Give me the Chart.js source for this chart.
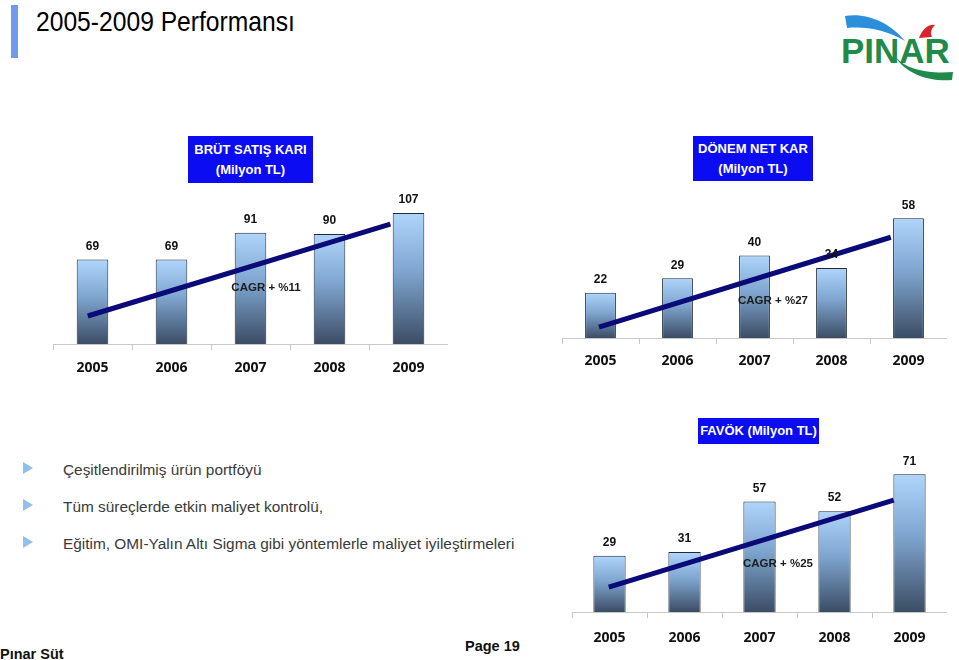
<!DOCTYPE html>
<html lang="tr">
<head>
<meta charset="UTF-8">
<title>2005-2009 Performansı</title>
<script src="https://cdn.jsdelivr.net/npm/chart.js"></script>
<style>
    body {
        margin: 0;
        width: 959px;
        height: 660px;
        position: relative;
        overflow: hidden;
        background: #fff;
        font-family: 'Liberation Sans', Arial, sans-serif;
    }
    .abs { position: absolute; }
    #bar-mark { left: 11px; top: 5px; width: 7px; height: 53px; background: #6f9af0; }
    #page-title {
        left: 36px; top: 6px; font-size: 28px; color: #000;
        transform: scaleX(0.88); transform-origin: left top; white-space: nowrap;
    }
    .title-box {
        background: #0c0cf2; color: #fff; font-weight: bold; font-size: 13px;
        text-align: center; line-height: 20px; display: flex; flex-direction: column;
        justify-content: center;
    }
    .cagr { font-weight: bold; font-size: 11.5px; color: #1c1c1c; white-space: nowrap; transform: translate(-50%, -50%); }
    .bullet { left: 23px; width: 0; height: 0; border-top: 6px solid transparent; border-bottom: 6px solid transparent; border-left: 10px solid #8ec0f0; }
    .btext { left: 63px; font-size: 15.4px; color: #3a3a3a; white-space: nowrap; transform: translateY(-50%); }
    .foot { font-weight: bold; font-size: 14.5px; color: #111; white-space: nowrap; }
    canvas { position: absolute; }
</style>
</head>
<body>
<div class="abs" id="bar-mark"></div>
<div class="abs" id="page-title">2005-2009 Performansı</div>

<svg class="abs" style="left:835px;top:8px" width="124" height="76" viewBox="0 0 124 76">
    <path d="M10 8 C30 4 55 14 70 33 C52 22 30 18 12 20 Z" fill="#2b8fdc"/>
    <path d="M84 30 C88 20 94 16 100 17 C96 21 95 25 97 29 Z" fill="#d8262c"/>
    <text x="6" y="55" font-family="Liberation Sans, Arial" font-weight="bold" font-size="35" fill="#1f8a4a">PINAR</text>
    <path d="M60 48 C70 62 95 66 118 64 L117 72 C95 74 70 66 60 48 Z" fill="#1f8a4a"/>
</svg>

<div class="abs title-box" style="left:188px;top:136px;width:125px;height:47px;">
    <span>BRÜT SATIŞ KARI</span><span>(Milyon TL)</span>
</div>
<div class="abs title-box" style="left:693px;top:136px;width:120px;height:45px;">
    <span>DÖNEM NET KAR</span><span>(Milyon TL)</span>
</div>
<div class="abs title-box" style="left:698px;top:418px;width:121px;height:26px;">
    <span>FAVÖK (Milyon TL)</span>
</div>

<canvas id="c1" style="left:53px;top:190px" width="395" height="195"></canvas>
<canvas id="c2" style="left:562px;top:193px" width="385" height="184"></canvas>
<canvas id="c3" style="left:572px;top:455px" width="375" height="202"></canvas>

<div class="abs cagr" style="left:266px;top:287px;">CAGR + %11</div>
<div class="abs cagr" style="left:773px;top:300px;">CAGR + %27</div>
<div class="abs cagr" style="left:778px;top:563px;">CAGR + %25</div>

<div class="abs bullet" style="top:462px"></div>
<div class="abs bullet" style="top:499px"></div>
<div class="abs bullet" style="top:536px"></div>
<div class="abs btext" style="top:470px">Çeşitlendirilmiş ürün portföyü</div>
<div class="abs btext" style="top:507px">Tüm süreçlerde etkin maliyet kontrolü,</div>
<div class="abs btext" style="top:544px">Eğitim, OMI-Yalın Altı Sigma gibi yöntemlerle maliyet iyileştirmeleri</div>

<div class="abs foot" style="left:0;top:646px;">Pınar Süt</div>
<div class="abs foot" style="left:465px;top:638px;">Page 19</div>

<script>
const years = ["2005", "2006", "2007", "2008", "2009"];

const brutSatisKari = [69, 69, 91, 90, 107];
const donemNetKar = [22, 29, 40, 34, 58];
const favok = [29, 31, 57, 52, 71];

// trend lines (start / end, x in category index units)
const brutTrend = [{x: -0.06, y: 23}, {x: 3.77, y: 98}];
const netTrend = [{x: -0.02, y: 5.4}, {x: 3.77, y: 48.8}];
const favokTrend = [{x: -0.01, y: 12.9}, {x: 3.79, y: 57.7}];

const valueLabels = {
    id: 'valueLabels',
    afterDatasetsDraw(chart) {
        const ctx = chart.ctx;
        const meta = chart.getDatasetMeta(0);
        ctx.save();
        ctx.font = 'bold 12px "Liberation Sans", Arial';
        ctx.fillStyle = '#111';
        ctx.textAlign = 'center';
        ctx.textBaseline = 'middle';
        meta.data.forEach((bar, i) => {
            ctx.fillText(chart.data.datasets[0].data[i], bar.x, bar.y - 13);
        });
        ctx.restore();
    }
};

function barGradient(context) {
    const chart = context.chart;
    if (!chart.chartArea || context.parsed == null) return '#7fa7d2';
    const y = chart.scales.y;
    const top = y.getPixelForValue(context.parsed.y);
    const bottom = y.getPixelForValue(0);
    const g = chart.ctx.createLinearGradient(0, top, 0, bottom);
    g.addColorStop(0, '#afd5fb');
    g.addColorStop(0.45, '#7ea5cf');
    g.addColorStop(1, '#3b4c64');
    return g;
}

function makeChart(id, values, trend, yMax, barPct, pad) {
    new Chart(document.getElementById(id), {
        type: 'bar',
        data: {
            labels: years,
            datasets: [{
                data: values,
                backgroundColor: barGradient,
                borderColor: '#1e2b3d',
                borderWidth: 1,
                barPercentage: barPct,
                categoryPercentage: 1,
                grouped: false,
                order: 2
            }, {
                type: 'line',
                data: trend,
                xAxisID: 'xt',
                borderColor: '#0a0a78',
                borderWidth: 5,
                pointRadius: 0,
                order: 1
            }]
        },
        options: {
            responsive: false,
            animation: false,
            layout: { padding: 0 },
            plugins: { legend: { display: false }, tooltip: { enabled: false } },
            scales: {
                x: {
                    grid: { drawOnChartArea: false, tickLength: 6, color: '#c8c8c8', offset: true },
                    border: { color: '#c8c8c8' },
                    ticks: {
                        padding: pad,
                        color: '#111',
                        font: { family: 'Open Sans', size: 14, weight: 'bold' }
                    }
                },
                xt: { type: 'linear', display: false, offset: false, min: -0.5, max: 4.5 },
                y: { display: false, min: 0, max: yMax }
            }
        },
        plugins: [valueLabels]
    });
}

makeChart('c1', brutSatisKari, brutTrend, 125.8, 0.4, 9);
makeChart('c2', donemNetKar, netTrend, 70.2, 0.4, 8);
makeChart('c3', favok, favokTrend, 80.9, 0.43, 11);
</script>
</body>
</html>
